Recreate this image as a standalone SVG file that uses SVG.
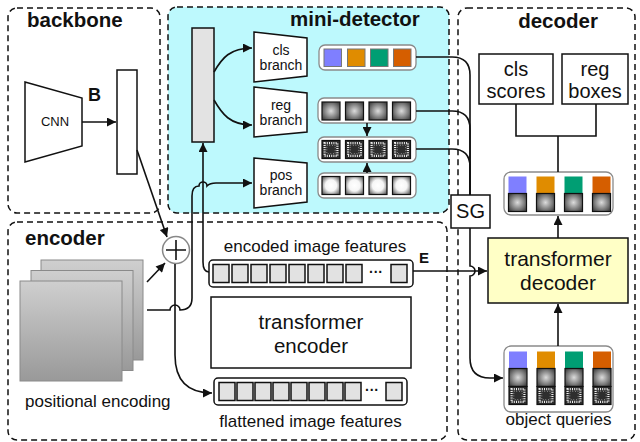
<svg xmlns="http://www.w3.org/2000/svg" xmlns:xlink="http://www.w3.org/1999/xlink" width="640" height="442" viewBox="0 0 640 442">
<style>
text{font-family:"Liberation Sans",Arial,Helvetica,sans-serif;fill:#111}
.title{font-weight:bold;font-size:20.5px}
.dash{fill:none;stroke:#111;stroke-width:1.5;stroke-dasharray:6 4}
.box{fill:#fff;stroke:#111;stroke-width:1.5}
.row{fill:#fff;stroke:#8a8a8a;stroke-width:1.3}
.frow{fill:#fff;stroke:#111;stroke-width:1.5}
.fsq{fill:#e2e2e2;stroke:#111;stroke-width:1.5}
.ln{fill:none;stroke:#111;stroke-width:1.6}
.arr{fill:none;stroke:#111;stroke-width:1.6;marker-end:url(#ah)}
.br{font-size:14px;text-anchor:middle}
.big{font-size:20.5px;text-anchor:middle}
.lab{font-size:17px}
</style>
<defs>
<marker id="ah" viewBox="0 0 10 10" refX="10" refY="5" markerWidth="11" markerHeight="9" markerUnits="userSpaceOnUse" orient="auto">
<path d="M0,0 L10,5 L0,10 z" fill="#111"/>
</marker>
<radialGradient id="gBall" cx="0.5" cy="0.5" r="0.6">
<stop offset="0" stop-color="#dcdcdc"/><stop offset="1" stop-color="#474747"/>
</radialGradient>
<radialGradient id="wBall" cx="0.5" cy="0.5" r="0.62">
<stop offset="0" stop-color="#ffffff"/><stop offset="0.5" stop-color="#f6f6f6"/><stop offset="1" stop-color="#666"/>
</radialGradient>
<linearGradient id="pe" x1="0" y1="0" x2="0" y2="1">
<stop offset="0" stop-color="#cfcfcf"/><stop offset="1" stop-color="#999"/>
</linearGradient>
<rect id="sqG" width="18" height="18" fill="url(#gBall)" stroke="#111" stroke-width="1.2"/>
<rect id="sqW" width="18" height="18" fill="url(#wBall)" stroke="#111" stroke-width="1.2"/>
<g id="sqN">
<rect width="18" height="18" fill="#2e2e2e" stroke="#111" stroke-width="1.2"/>
<rect x="2.6" y="2.6" width="12.8" height="12.8" fill="none" stroke="#eee" stroke-width="2.2" stroke-dasharray="1 1.2"/>
<rect x="4.8" y="4.8" width="8.4" height="8.4" fill="none" stroke="#aaa" stroke-width="1" stroke-dasharray="0.8 1.8"/>
</g>
<rect id="fs" width="16" height="18" class="fsq"/>
</defs>

<!-- group frames -->
<g id="backbone">
<rect x="8" y="8" width="152" height="205" rx="9" class="dash"/>
<text x="27" y="27" class="title">backbone</text>
<polygon points="25,82 82,98 82,146 25,162" class="box"/>
<text x="55" y="126" style="font-size:13px;text-anchor:middle">CNN</text>
<text x="88" y="101" style="font-weight:bold;font-size:18px">B</text>
<rect x="117" y="70" width="20" height="104" class="box"/>
</g>

<g id="mini-detector">
<rect x="168" y="7" width="281" height="206" rx="9" fill="#bdf9fd" stroke="#111" stroke-width="1.5" stroke-dasharray="6 4"/>
<text x="290" y="26" class="title">mini-detector</text>
<rect x="192" y="28" width="22" height="114" fill="#e3e3e3" stroke="#111" stroke-width="1.5"/>
<g id="cls-branch">
<polygon points="254,32 307,38 307,76 254,82" class="box"/>
<text x="281" y="55" class="br">cls</text><text x="281" y="70" class="br">branch</text>
</g>
<g id="reg-branch">
<polygon points="254,87 307,93 307,132 254,137" class="box"/>
<text x="281" y="110" class="br">reg</text><text x="281" y="125" class="br">branch</text>
</g>
<g id="pos-branch">
<polygon points="254,158 307,163 307,202 254,208" class="box"/>
<text x="281" y="180" class="br">pos</text><text x="281" y="195" class="br">branch</text>
</g>
<g id="cls-row">
<rect x="319" y="45" width="97" height="25" rx="6" class="row"/>
<rect x="324" y="49" width="17.5" height="17.5" fill="#7f7fff" stroke="#777" stroke-width="1"/>
<rect x="347.5" y="49" width="17.5" height="17.5" fill="#e08c00" stroke="#777" stroke-width="1"/>
<rect x="370.5" y="49" width="17.5" height="17.5" fill="#009e73" stroke="#777" stroke-width="1"/>
<rect x="393.5" y="49" width="17.5" height="17.5" fill="#d55e00" stroke="#777" stroke-width="1"/>
</g>
<g id="reg-row">
<rect x="318" y="98" width="98" height="25" rx="6" class="row"/>
<use xlink:href="#sqG" x="322" y="102"/><use xlink:href="#sqG" x="345.5" y="102"/><use xlink:href="#sqG" x="369" y="102"/><use xlink:href="#sqG" x="392.5" y="102"/>
</g>
<g id="noise-row">
<rect x="318" y="137" width="98" height="25" rx="6" class="row"/>
<use xlink:href="#sqN" x="322" y="140.5"/><use xlink:href="#sqN" x="345.5" y="140.5"/><use xlink:href="#sqN" x="369" y="140.5"/><use xlink:href="#sqN" x="392.5" y="140.5"/>
</g>
<g id="pos-row">
<rect x="318" y="173" width="98" height="25" rx="6" class="row"/>
<use xlink:href="#sqW" x="322" y="176.5"/><use xlink:href="#sqW" x="345.5" y="176.5"/><use xlink:href="#sqW" x="369" y="176.5"/><use xlink:href="#sqW" x="392.5" y="176.5"/>
</g>
</g>

<g id="encoder">
<rect x="8" y="222" width="439" height="218" rx="9" class="dash"/>
<text x="25" y="245" class="title">encoder</text>
<g id="positional-encoding">
<rect x="41" y="260" width="102" height="100" fill="url(#pe)" stroke="#8a8a8a" stroke-width="1"/>
<rect x="31" y="270.5" width="102" height="100" fill="url(#pe)" stroke="#8a8a8a" stroke-width="1"/>
<rect x="20" y="281" width="102" height="100" fill="url(#pe)" stroke="#8a8a8a" stroke-width="1"/>
<text x="25" y="407" class="lab">positional encoding</text>
</g>
<g id="plus">
<circle cx="176" cy="250" r="13.5" fill="#fff" stroke="#888" stroke-width="1.5"/>
<path d="M176,240 V260 M166,250 H186" stroke="#111" stroke-width="1.6"/>
</g>
<g id="encoded-features">
<text x="315" y="252" class="lab" text-anchor="middle">encoded image features</text>
<rect x="209" y="260" width="204" height="27" rx="4" class="frow"/>
<use xlink:href="#fs" x="213" y="264.5"/><use xlink:href="#fs" x="232" y="264.5"/><use xlink:href="#fs" x="251" y="264.5"/><use xlink:href="#fs" x="270" y="264.5"/><use xlink:href="#fs" x="289" y="264.5"/><use xlink:href="#fs" x="308" y="264.5"/><use xlink:href="#fs" x="327" y="264.5"/><use xlink:href="#fs" x="346" y="264.5"/>
<text x="376" y="277" style="font-size:14px;font-weight:bold;text-anchor:middle">···</text>
<use xlink:href="#fs" x="391" y="264.5"/>
<text x="419" y="263" style="font-weight:bold;font-size:15px">E</text>
</g>
<g id="transformer-encoder">
<rect x="211" y="297" width="200" height="71" class="box"/>
<text x="311" y="329" class="big">transformer</text>
<text x="311" y="353" class="big">encoder</text>
</g>
<g id="flattened-features">
<rect x="214" y="378" width="193" height="27" rx="4" class="frow"/>
<use xlink:href="#fs" x="219" y="382.5"/><use xlink:href="#fs" x="237" y="382.5"/><use xlink:href="#fs" x="255" y="382.5"/><use xlink:href="#fs" x="273" y="382.5"/><use xlink:href="#fs" x="291" y="382.5"/><use xlink:href="#fs" x="309" y="382.5"/><use xlink:href="#fs" x="327" y="382.5"/><use xlink:href="#fs" x="345" y="382.5"/>
<text x="372" y="395" style="font-size:14px;font-weight:bold;text-anchor:middle">···</text>
<use xlink:href="#fs" x="386" y="382.5"/>
<text x="310.5" y="427" class="lab" text-anchor="middle">flattened image features</text>
</g>
</g>

<g id="decoder">
<rect x="458" y="8" width="177" height="432" rx="9" class="dash"/>
<text x="558" y="28" class="title" text-anchor="middle">decoder</text>
<g id="cls-scores">
<rect x="479" y="54" width="74" height="50" class="box"/>
<text x="516" y="76" class="big" style="font-size:20px">cls</text>
<text x="516" y="98" class="big" style="font-size:20px">scores</text>
</g>
<g id="reg-boxes">
<rect x="562" y="54" width="66" height="50" class="box"/>
<text x="595" y="76" class="big" style="font-size:20px">reg</text>
<text x="595" y="98" class="big" style="font-size:20px">boxes</text>
</g>
<g id="pred-row">
<rect x="504" y="172" width="109" height="43" rx="7" class="row"/>
<rect x="508.5" y="176.5" width="18" height="17" fill="#7f7fff"/>
<rect x="536.5" y="176.5" width="18" height="17" fill="#e08c00"/>
<rect x="564.5" y="176.5" width="18" height="17" fill="#009e73"/>
<rect x="592.5" y="176.5" width="18" height="17" fill="#d55e00"/>
<use xlink:href="#sqG" x="508.5" y="193.5"/><use xlink:href="#sqG" x="536.5" y="193.5"/><use xlink:href="#sqG" x="564.5" y="193.5"/><use xlink:href="#sqG" x="592.5" y="193.5"/>
</g>
<g id="transformer-decoder">
<rect x="488" y="238" width="140" height="65" fill="#ffffc6" stroke="#111" stroke-width="1.5"/>
<text x="558" y="266" class="big" style="font-size:21px">transformer</text>
<text x="558" y="290" class="big" style="font-size:21px">decoder</text>
</g>
<g id="object-queries">
<rect x="504" y="346" width="109" height="66" rx="7" class="row"/>
<rect x="509" y="351.5" width="18" height="17" fill="#7f7fff"/>
<rect x="537" y="351.5" width="18" height="17" fill="#e08c00"/>
<rect x="565" y="351.5" width="18" height="17" fill="#009e73"/>
<rect x="593" y="351.5" width="18" height="17" fill="#d55e00"/>
<use xlink:href="#sqG" x="509" y="368.5"/><use xlink:href="#sqG" x="537" y="368.5"/><use xlink:href="#sqG" x="565" y="368.5"/><use xlink:href="#sqG" x="593" y="368.5"/>
<use xlink:href="#sqN" x="509" y="386.5"/><use xlink:href="#sqN" x="537" y="386.5"/><use xlink:href="#sqN" x="565" y="386.5"/><use xlink:href="#sqN" x="593" y="386.5"/>
<text x="558.5" y="425" class="lab" text-anchor="middle">object queries</text>
</g>
</g>

<g id="SG">
<rect x="451" y="195" width="39" height="33" class="box"/>
<text x="470.5" y="218" style="font-size:20px;text-anchor:middle">SG</text>
</g>

<g id="connectors">
<path d="M82,122 H116" class="arr"/>
<path d="M137,150 L167,237" class="arr"/>
<path d="M147,282 L165,263" class="arr"/>
<path d="M175,264 V355 Q175,393 212,393" class="arr"/>
<path d="M147,310 H170 A5,5 0 0 1 180,310 Q192,310 192,298 V196 Q192,186 199,186 A4,4 0 0 1 207,186 Q210,183 216,183 H252" class="arr"/>
<path d="M209,272 Q203,272 203,262 V143" class="arr"/>
<path d="M214,72 C222,58 230,48 252,48" class="arr"/>
<path d="M214,100 C222,114 230,125 252,125" class="arr"/>
<path d="M367,123 V136" class="arr"/>
<path d="M367,173 V163" class="arr"/>
<path d="M416,57 H452 Q470,57 470,75 V195" class="ln"/>
<path d="M416,111 H452 Q470,111 470,129 V195" class="ln"/>
<path d="M416,149 H452 Q470,149 470,167 V195" class="ln"/>
<path d="M470,228 V266 A5,5 0 0 1 470,276 V358 Q470,378 490,378 H503" class="arr"/>
<path d="M413,271 H487" class="arr"/>
<path d="M516,104 V136 H596 V104 M558,136 V172" class="ln"/>
<path d="M558,238 V216" class="arr"/>
<path d="M558,346 V304" class="arr"/>
</g>
</svg>
